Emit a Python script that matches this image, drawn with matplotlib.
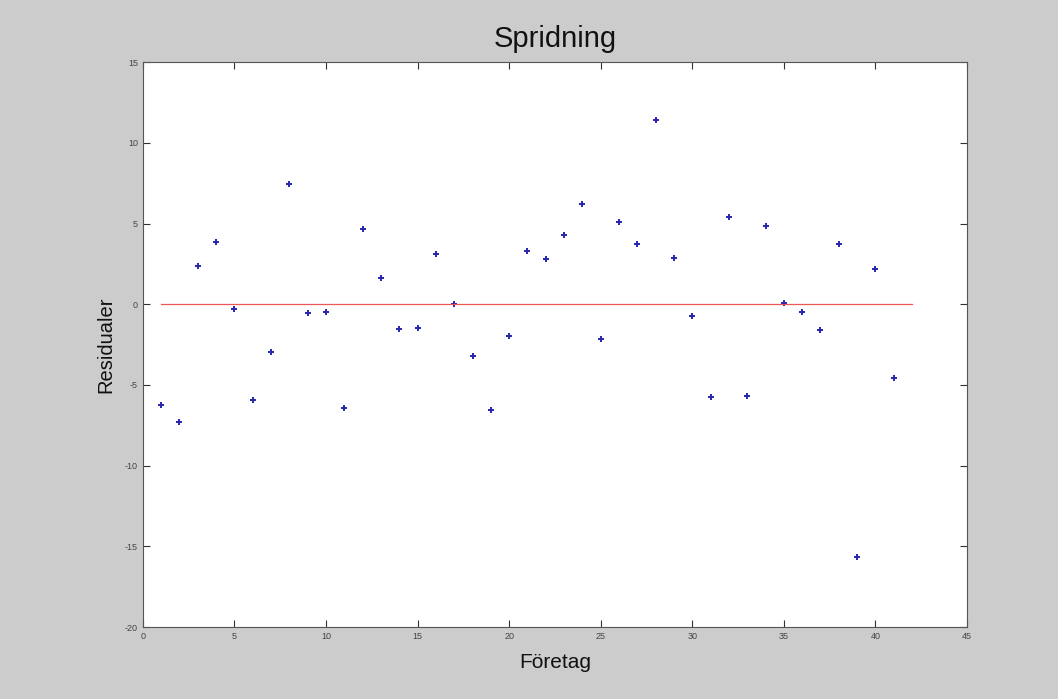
import matplotlib
matplotlib.use("Agg")
from matplotlib import pyplot as plt
import numpy as np

plt.rcParams['font.family'] = ['Liberation Sans', 'DejaVu Sans']
plt.rcParams['axes.unicode_minus'] = False

# residualer per företag
foretag = np.arange(1, 42)
residualer = [-6.25, -7.3, 2.38, 3.86, -0.29, -5.94, -2.96, 7.46, -0.54, -0.48,
              -6.43, 4.67, 1.63, -1.53, -1.47, 3.12, 0.02, -3.21, -6.56, -1.97,
              3.31, 2.81, 4.3, 6.22, -2.15, 5.1, 3.74, 11.43, 2.87, -0.73,
              -5.75, 5.42, -5.69, 4.86, 0.08, -0.48, -1.59, 3.74, -15.68, 2.19,
              -4.57]
noll_x = [1, 42]
noll_y = [0, 0]
xticks = list(range(0, 50, 5))
yticks = list(range(-20, 20, 5))

fig = plt.figure(figsize=(10.58, 6.99), dpi=100, facecolor='#cccccc')
ax = fig.add_axes([0.135, 0.103, 0.779, 0.808])

ax.plot(foretag, residualer, '+', color='#2626b0', markersize=5, markeredgewidth=1.4)
ax.plot(noll_x, noll_y, color='#ee5555', linewidth=0.9)

ax.set_xlim(0, 45)
ax.set_ylim(-20, 15)
ax.set_xticks(xticks)
ax.set_yticks(yticks)
ax.tick_params(direction='in', top=True, right=True, labelsize=6.5,
               length=5, colors='#333333', labelcolor='#444444')
for s in ax.spines.values():
    s.set_color('#555555')

ax.set_title('Spridning', fontsize=21, pad=11, color='#111111')
ax.set_xlabel('Företag', fontsize=15, labelpad=9, color='#111111')
ax.set_ylabel('Residualer', fontsize=14.5, labelpad=7, color='#111111')

fig.savefig('out.png', dpi=100, facecolor=fig.get_facecolor())
